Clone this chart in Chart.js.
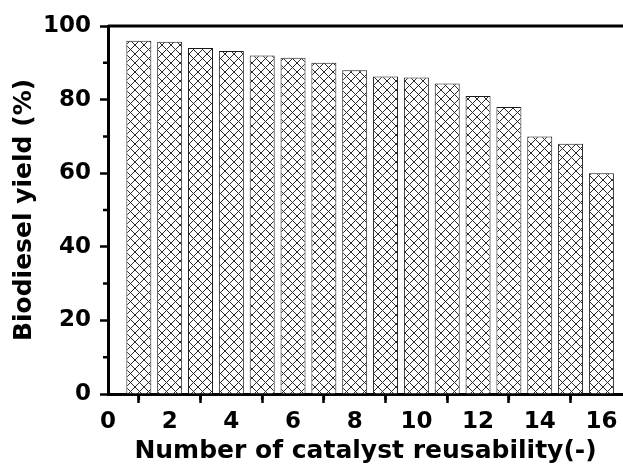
<!DOCTYPE html>
<html>
<head>
<meta charset="utf-8">
<script src="https://cdn.jsdelivr.net/npm/chart.js@4/dist/chart.umd.min.js"></script>
<style>
  html, body { margin: 0; padding: 0; background: #ffffff; }
  #wrap { width: 623px; height: 467px; }
</style>
</head>
<body>
<div id="wrap"><canvas id="chart" width="623" height="467"></canvas></div>
<script>
// Reuse cycles of the catalyst and the biodiesel yield obtained in each run
const cycles = [1, 2, 3, 4, 5, 6, 7, 8, 9, 10, 11, 12, 13, 14, 15, 16];
const yields = [96, 95.7, 94, 93.2, 92, 91.4, 90, 88, 86.3, 86, 84.4, 81, 78, 70, 68, 60];

// Axis ranges and tick steps
const xRange = [0, 16.7];
const yRange = [0, 100];
const xMajorStep = 2;
const yMajorStep = 20;
const xMinorTicks = [1, 3, 5, 7, 9, 11, 13, 15];
const yMinorTicks = [10, 30, 50, 70, 90];

const xTitle = 'Number of catalyst reusability(-)';
const yTitle = 'Biodiesel yield (%)';

// Cross-hatch fill for the bars
function makeHatch() {
  const size = 9;
  const c = document.createElement('canvas');
  c.width = size; c.height = size;
  const g = c.getContext('2d');
  g.fillStyle = '#ffffff';
  g.fillRect(0, 0, size, size);
  g.strokeStyle = '#2a2a2a';
  g.lineWidth = 1;
  g.beginPath();
  g.moveTo(0, 0); g.lineTo(size, size);
  g.moveTo(size, 0); g.lineTo(0, size);
  g.stroke();
  return document.getElementById('chart').getContext('2d').createPattern(c, 'repeat');
}

// Short minor ticks plus the upper frame line
const frameAndMinorTicks = {
  id: 'frameAndMinorTicks',
  afterDraw(chart) {
    const { ctx, chartArea, scales } = chart;
    ctx.save();
    ctx.strokeStyle = '#000000';
    ctx.lineWidth = 2.5;
    ctx.beginPath();
    xMinorTicks.forEach(v => {
      const px = scales.x.getPixelForValue(v);
      ctx.moveTo(px, chartArea.bottom);
      ctx.lineTo(px, chartArea.bottom + 6);
    });
    yMinorTicks.forEach(v => {
      const py = scales.y.getPixelForValue(v);
      ctx.moveTo(chartArea.left, py);
      ctx.lineTo(chartArea.left - 5, py);
    });
    ctx.stroke();
    ctx.lineWidth = 3;
    ctx.beginPath();
    ctx.moveTo(chartArea.left, chartArea.top);
    ctx.lineTo(chartArea.right, chartArea.top);
    ctx.stroke();
    ctx.restore();
  }
};

const tickFont = { family: 'DejaVu Sans', weight: 'bold', size: 23 };
const titleFont = { family: 'DejaVu Sans', weight: 'bold', size: 25 };

new Chart(document.getElementById('chart'), {
  type: 'bar',
  data: {
    datasets: [{
      data: cycles.map((c, i) => ({ x: c, y: yields[i] })),
      backgroundColor: makeHatch(),
      borderColor: '#1a1a1a',
      borderWidth: 1,
      barPercentage: 0.81,
      categoryPercentage: 1.0
    }]
  },
  options: {
    responsive: false,
    animation: false,
    devicePixelRatio: 1,
    layout: { padding: { top: 26, right: 0, left: 0, bottom: 0 } },
    plugins: { legend: { display: false }, tooltip: { enabled: false } },
    scales: {
      x: {
        type: 'linear',
        offset: false,
        min: xRange[0],
        max: xRange[1],
        afterFit: s => { s.height = 73; },
        border: { display: true, color: '#000000', width: 3 },
        grid: { drawOnChartArea: false, drawTicks: true, tickLength: 9, tickWidth: 2.5, tickColor: '#000000' },
        ticks: {
          stepSize: xMajorStep,
          includeBounds: false,
          color: '#000000',
          font: tickFont,
          padding: 5,
          maxRotation: 0
        },
        title: {
          display: true,
          text: xTitle,
          color: '#000000',
          font: titleFont,
          padding: { top: 0, bottom: 1 }
        }
      },
      y: {
        min: yRange[0],
        max: yRange[1],
        afterFit: s => { s.width = 108; },
        border: { display: true, color: '#000000', width: 3 },
        grid: { drawOnChartArea: false, drawTicks: true, tickLength: 8, tickWidth: 2.5, tickColor: '#000000' },
        ticks: {
          stepSize: yMajorStep,
          color: '#000000',
          font: tickFont,
          padding: 9
        },
        title: {
          display: true,
          text: yTitle,
          color: '#000000',
          font: titleFont,
          padding: { top: 9, bottom: 0 }
        }
      }
    }
  },
  plugins: [frameAndMinorTicks]
});
</script>
</body>
</html>
